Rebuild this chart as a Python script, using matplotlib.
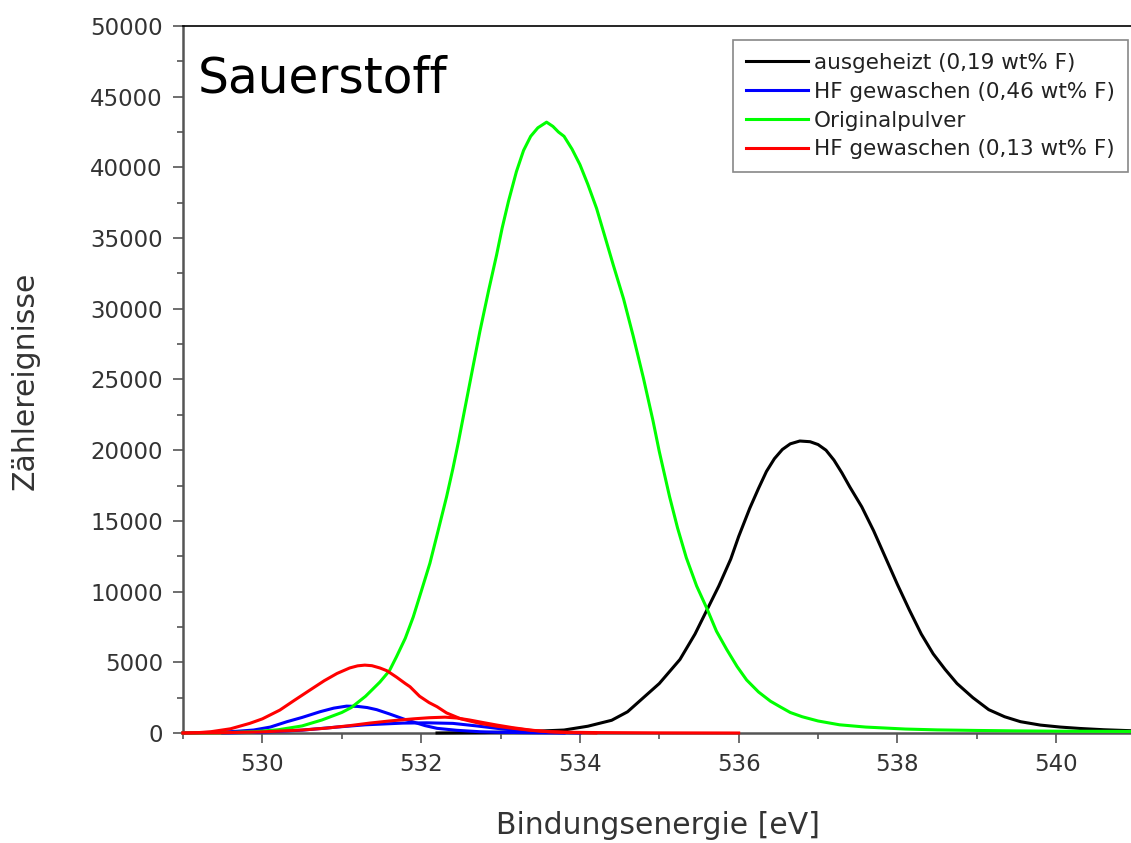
import matplotlib
matplotlib.use("Agg")
import matplotlib.pyplot as plt
from matplotlib.ticker import MultipleLocator

# Werte (Bindungsenergie in eV, Zaehlereignisse)
x_ausgeheizt = [532.2, 532.8, 533.3, 533.8, 534.1, 534.4, 534.6, 534.76, 535.0, 535.26,
                535.45, 535.6, 535.75, 535.9, 536.0, 536.14, 536.25, 536.35, 536.45, 536.55,
                536.65, 536.77, 536.9, 537.0, 537.1, 537.2, 537.3, 537.4, 537.55, 537.7,
                537.85, 538.0, 538.15, 538.3, 538.45, 538.6, 538.75, 538.95, 539.15, 539.35,
                539.55, 539.8, 540.05, 540.3, 540.6, 541.0]
y_ausgeheizt = [0, 30, 90, 210, 480, 900, 1500, 2300, 3500, 5200,
                7000, 8700, 10400, 12300, 13900, 15900, 17300, 18500, 19400, 20050,
                20450, 20650, 20600, 20400, 20000, 19300, 18400, 17400, 16000, 14300,
                12400, 10500, 8700, 7000, 5600, 4500, 3500, 2500, 1650, 1150,
                800, 560, 420, 320, 230, 150]

x_hf046 = [529.0, 529.4, 529.65, 529.89, 530.1, 530.31, 530.5, 530.73, 530.9, 531.06,
           531.2, 531.32, 531.44, 531.6, 531.8, 531.9, 532.05, 532.2, 532.45, 532.74,
           533.0, 533.4, 533.8]
y_hf046 = [0, 50, 110, 210, 420, 800, 1100, 1510, 1760, 1900,
           1880, 1800, 1650, 1350, 950, 780, 520, 330, 190, 90,
           50, 20, 0]
# breite Nebenkomponente (blau)
x_hf046_b = [529.5, 530.0, 530.5, 530.94, 531.3, 531.77, 532.07, 532.4, 532.7, 533.0,
             533.3, 533.6, 534.0]
y_hf046_b = [0, 60, 200, 420, 580, 700, 720, 680, 500, 300,
             140, 50, 0]

x_original = [529.0, 529.5, 529.9, 530.2, 530.5, 530.75, 531.0, 531.12, 531.3, 531.48,
              531.6, 531.69, 531.8, 531.9, 532.0, 532.11, 532.2, 532.32, 532.4, 532.47,
              532.57, 532.66, 532.74, 532.85, 532.95, 533.02, 533.1, 533.2, 533.29, 533.38,
              533.47, 533.58, 533.66, 533.73, 533.8, 533.9, 534.0, 534.1, 534.21, 534.31,
              534.42, 534.55, 534.67, 534.8, 534.92, 535.0, 535.13, 535.23, 535.34, 535.47,
              535.6, 535.72, 535.85, 535.98, 536.1, 536.25, 536.4, 536.52, 536.65, 536.8,
              537.0, 537.27, 537.6, 538.1, 538.5, 539.0, 539.5, 540.0, 540.5, 541.0]
y_original = [0, 20, 90, 230, 500, 920, 1450, 1800, 2600, 3600,
              4400, 5400, 6700, 8200, 10000, 12000, 14000, 16700, 18700, 20600,
              23500, 26100, 28400, 31300, 33800, 35700, 37600, 39700, 41200, 42200,
              42800, 43200, 42900, 42500, 42200, 41300, 40200, 38800, 37100, 35200,
              33100, 30700, 28100, 25100, 22100, 19900, 16700, 14500, 12400, 10400,
              8800, 7200, 5900, 4700, 3750, 2900, 2250, 1860, 1450, 1150,
              850, 580, 420, 280, 220, 180, 150, 130, 120, 110]

x_hf013 = [529.0, 529.2, 529.35, 529.6, 529.84, 530.0, 530.22, 530.4, 530.6, 530.78,
           530.94, 531.1, 531.2, 531.29, 531.38, 531.48, 531.57, 531.69, 531.8, 531.86,
           531.98, 532.1, 532.2, 532.32, 532.5, 532.74, 532.95, 533.16, 533.4, 533.6,
           533.8, 534.2, 535.0, 536.0]
y_hf013 = [0, 30, 90, 300, 680, 1000, 1620, 2300, 3040, 3700,
           4210, 4600, 4750, 4800, 4760, 4600, 4400, 3950, 3500, 3270,
           2600, 2150, 1860, 1420, 1000, 680, 480, 330, 180, 100,
           60, 30, 10, 0]
# breite Nebenkomponente (rot)
x_hf013_b = [529.0, 529.5, 530.0, 530.5, 530.8, 531.1, 531.35, 531.6, 531.9, 532.1,
             532.3, 532.45, 532.61, 532.78, 532.95, 533.15, 533.37, 533.6, 533.8, 534.2]
y_hf013_b = [0, 20, 80, 210, 340, 520, 700, 850, 1000, 1080,
             1120, 1060, 920, 740, 565, 380, 210, 90, 40, 0]

labels = ["ausgeheizt (0,19 wt% F)", "HF gewaschen (0,46 wt% F)",
          "Originalpulver", "HF gewaschen (0,13 wt% F)"]

grau = "#555555"
lw = 2.2

fig = plt.figure(figsize=(11.31, 8.43), dpi=100)
ax = fig.add_axes([183 / 1131, 110 / 843, 952.6 / 1131, 707 / 843])

kw = dict(lw=lw, zorder=3, clip_on=False)
ax.plot(x_ausgeheizt, y_ausgeheizt, color="black", label=labels[0], **kw)
ax.plot(x_hf046, y_hf046, color="#0000ff", label=labels[1], **kw)
ax.plot(x_hf046_b, y_hf046_b, color="#0000ff", label="_nolegend_", **kw)
ax.plot(x_original, y_original, color="#00ff00", label=labels[2], **kw)
ax.plot(x_hf013, y_hf013, color="#ff0000", label=labels[3], **kw)
ax.plot(x_hf013_b, y_hf013_b, color="#ff0000", label="_nolegend_", **kw)

ax.set_xlim(529, 541)
ax.set_ylim(0, 50000)
ax.xaxis.set_major_locator(MultipleLocator(2))
ax.xaxis.set_minor_locator(MultipleLocator(1))
ax.yaxis.set_major_locator(MultipleLocator(5000))
ax.yaxis.set_minor_locator(MultipleLocator(2500))

ax.tick_params(which="both", direction="out", color=grau, width=1.2,
               labelsize=16.5, labelcolor="#333333", top=False, right=False)
ax.tick_params(which="major", length=7.5, pad=7)
ax.tick_params(which="minor", length=4.5)

for s in ["left", "bottom"]:
    ax.spines[s].set_color(grau)
    ax.spines[s].set_linewidth(1.8)
ax.spines["top"].set_color("black")
ax.spines["top"].set_linewidth(1.2)

ax.set_xlabel("Bindungsenergie [eV]", fontsize=21.5, color="#333333")
ax.set_ylabel("Zählereignisse", fontsize=21.5, color="#333333")
ax.xaxis.set_label_coords(0.499, -0.11)
ax.yaxis.set_label_coords(-0.15, 0.498)

ax.text(0.015, 0.926, "Sauerstoff", transform=ax.transAxes,
        fontsize=35, va="center", ha="left", color="black")

leg = ax.legend(loc="upper right", bbox_to_anchor=(1128 / 1131, 1 - 40 / 843),
                bbox_transform=fig.transFigure, fontsize=15.5, frameon=True,
                fancybox=False, framealpha=1, edgecolor="#888888",
                handlelength=2.85, handletextpad=0.3, labelspacing=0.41,
                borderpad=0.6, borderaxespad=0)
leg.set_zorder(5)
leg.get_frame().set_linewidth(1.2)
for t in leg.get_texts():
    t.set_color("#222222")
for h in leg.get_lines():
    h.set_linewidth(lw)

fig.savefig("out.png", dpi=100)
